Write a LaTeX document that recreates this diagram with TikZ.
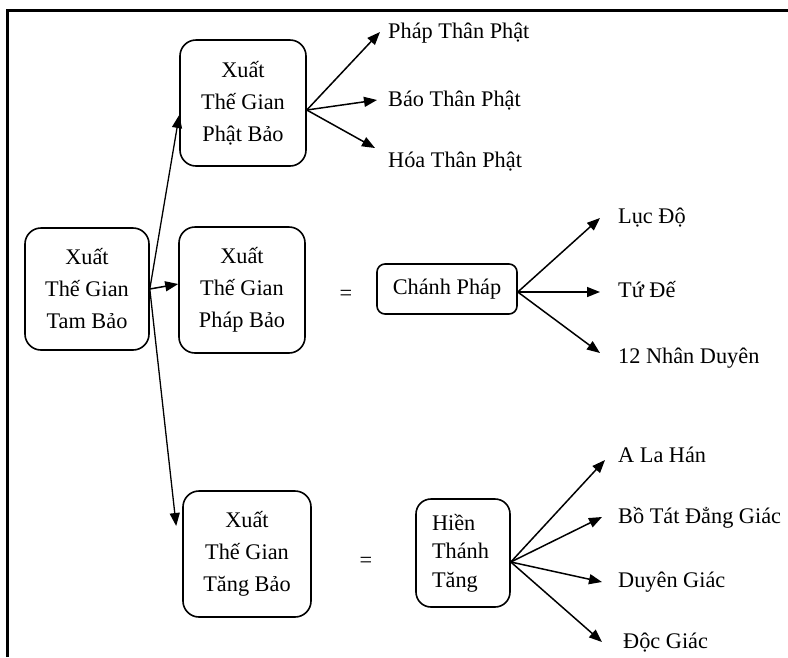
\documentclass[tikz,border=0pt]{standalone}
\usepackage{fontspec}
\setmainfont{Liberation Serif}
\usetikzlibrary{arrows.meta,calc}

\begin{document}
\begin{tikzpicture}[x=1pt,y=-1pt,
  txt/.style={font=\fontsize{22.3}{32}\selectfont, inner sep=0pt},
  box/.style={txt, draw, line width=1.6pt, rounded corners=16pt, align=center},
  lbl/.style={txt, anchor=base west},
  arr/.style={line width=1.5pt, -{Triangle[length=13pt,width=10pt]}},
  frame/.style={line width=2.7pt}
]
\useasboundingbox (0,0) rectangle (788,657);

% outer frame: top and left edges only
\coordinate (fa) at (7.5,657);
\coordinate (fb) at (7.5,10.7);
\coordinate (fc) at (788,10.7);
\draw[frame] (fa) -- (fb) -- (fc);

% main boxes
\node[box, minimum width=124pt, minimum height=122pt] (tb) at (87,289) {Xuất\\Thế Gian\\Tam Bảo};
\node[box, minimum width=126pt, minimum height=126pt] (pb) at (243,103) {Xuất\\Thế Gian\\Phật Bảo};
\node[box, minimum width=126pt, minimum height=126pt] (fbx) at (242,290) {Xuất\\Thế Gian\\Pháp Bảo};
\node[box, minimum width=128pt, minimum height=126pt] (tgb) at (247,554) {Xuất\\Thế Gian\\Tăng Bảo};

\node[box, rounded corners=8pt, minimum width=140pt, minimum height=50pt] (cp) at (447,289) {Chánh Pháp};
\node[box, rounded corners=15pt, minimum width=94pt, minimum height=108pt,
      font=\fontsize{22.3}{28.5}\selectfont, align=left, text width=62pt] (ht) at (463,553) {Hiền\\Thánh\\Tăng};

\node[txt] (eq1) at (346,295) {=};
\node[txt] (eq2) at (366,562) {=};

% leaf labels
\node[lbl] (l1) at (388,38) {Pháp Thân Phật};
\node[lbl] (l2) at (388,106) {Báo Thân Phật};
\node[lbl] (l3) at (388,167) {Hóa Thân Phật};
\node[lbl] (m1) at (618,223) {Lục Độ};
\node[lbl] (m2) at (618,297) {Tứ Đế};
\node[lbl] (m3) at (618,363) {12 Nhân Duyên};
\node[lbl] (n1) at (618,462) {A La Hán};
\node[lbl] (n2) at (618,523) {Bồ Tát Đẳng Giác};
\node[lbl] (n3) at (618,587) {Duyên Giác};
\node[lbl] (n4) at (623,648) {Độc Giác};

% arrow tips in front of the labels
\coordinate (tl1) at (380,32);
\coordinate (tl2) at (377,100);
\coordinate (tl3) at (375,148);
\coordinate (tm1) at (600,218);
\coordinate (tm2) at (600,292);
\coordinate (tm3) at (600,353);
\coordinate (tn1) at (605,460);
\coordinate (tn2) at (602,517);
\coordinate (tn3) at (602,582);
\coordinate (tn4) at (602,642);

% Tam Bao branches
\draw[arr, line width=1.3pt] (tb.east) -- ($(pb.west)+(0,12)$);
\draw[arr] (tb.east) -- ($(fbx.west)+(0,-6)$);
\draw[arr, line width=1.3pt] (tb.east) -- ($(tgb.west)+(-6,-28)$);

% Phat Bao fan
\foreach \t in {tl1,tl2,tl3} \draw[arr] ($(pb.east)+(0,7)$) -- (\t);
% Chanh Phap fan
\foreach \t in {tm1,tm2,tm3} \draw[arr] ($(cp.east)+(0,3)$) -- (\t);
% Hien Thanh Tang fan
\foreach \t in {tn1,tn2,tn3,tn4} \draw[arr] ($(ht.east)+(0,9)$) -- (\t);
\end{tikzpicture}
\end{document}
